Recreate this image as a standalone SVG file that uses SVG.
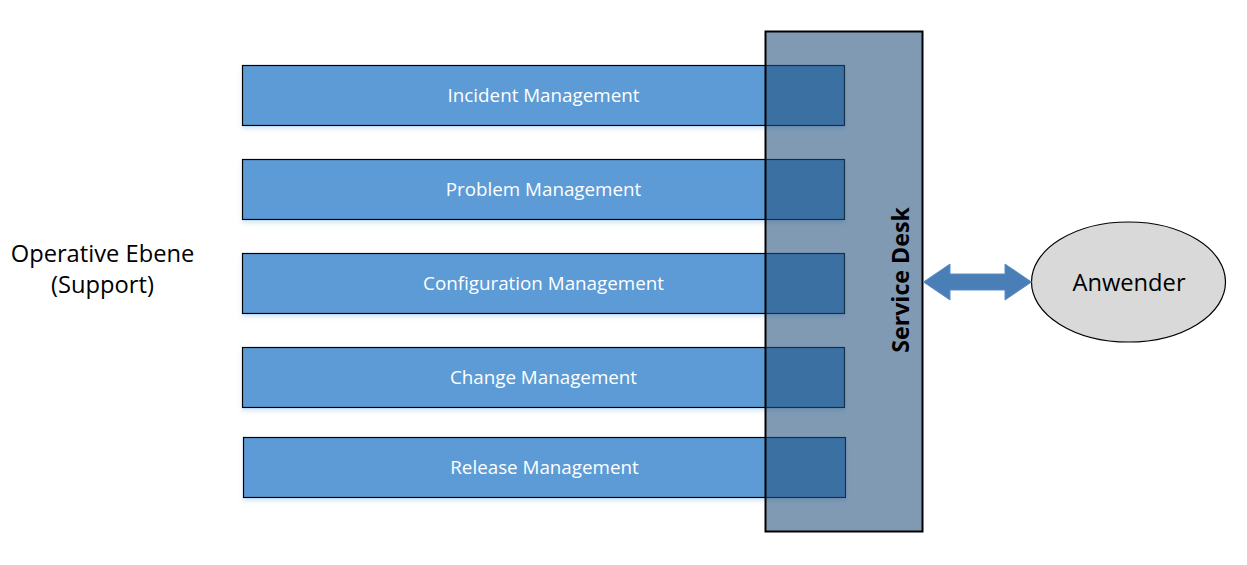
<svg xmlns="http://www.w3.org/2000/svg" width="1247" height="565" viewBox="0 0 1247 565">
<style>
.bar{fill:#5B9BD5;stroke:#000;stroke-width:1.2}
.bt{font-family:"Open Sans","Noto Sans",sans-serif;font-size:18.8px;fill:#fff;text-anchor:middle}
.lbl{font-family:"Open Sans","Noto Sans",sans-serif;font-size:23.7px;fill:#000;text-anchor:middle}
</style>
<defs>
<filter id="sh" x="-5%" y="-20%" width="110%" height="150%">
<feDropShadow dx="0" dy="3" stdDeviation="2" flood-color="#5B9BD5" flood-opacity="0.25"/>
</filter>
</defs>
<rect width="1247" height="565" fill="#fff"/>
<g id="label-operative">
<text class="lbl" x="102.5" y="262.3">Operative Ebene</text>
<text class="lbl" x="102.5" y="293">(Support)</text>
</g>
<g id="incident">
<rect class="bar" filter="url(#sh)" x="242.5" y="65.5" width="602" height="60"/>
<text class="bt" x="543.5" y="102">Incident Management</text>
</g>
<g id="problem">
<rect class="bar" filter="url(#sh)" x="242.5" y="159.5" width="602" height="60"/>
<text class="bt" x="543.5" y="196">Problem Management</text>
</g>
<g id="configuration">
<rect class="bar" filter="url(#sh)" x="242.5" y="253.5" width="602" height="60"/>
<text class="bt" x="543.5" y="290">Configuration Management</text>
</g>
<g id="change">
<rect class="bar" filter="url(#sh)" x="242.5" y="347.5" width="602" height="60"/>
<text class="bt" x="543.5" y="384">Change Management</text>
</g>
<g id="release">
<rect class="bar" filter="url(#sh)" x="243.5" y="437.5" width="602" height="60"/>
<text class="bt" x="544.5" y="474">Release Management</text>
</g>
<g id="service-desk">
<rect x="765.5" y="31.5" width="157" height="500" fill="rgb(37,81,126)" fill-opacity="0.58" stroke="#000" stroke-width="2"/>
<text transform="translate(909,280) rotate(-90)" font-family="'Open Sans','Noto Sans',sans-serif" font-weight="bold" font-size="23.2" fill="#000" text-anchor="middle">Service Desk</text>
</g>
<g id="anwender">
<ellipse cx="1128.5" cy="282" rx="97" ry="60" fill="#D9D9D9" stroke="#000" stroke-width="1.2"/>
<text class="lbl" x="1129" y="290.5" font-size="22.7">Anwender</text>
</g>
<g id="connectors">
<path d="M923.5,282 L950,264 L950,274 L1005,274 L1005,264 L1031.5,282 L1005,300 L1005,290 L950,290 L950,300 Z" fill="#4A7EB6" stroke="#5B8FC5" stroke-width="1"/>
</g>
</svg>
